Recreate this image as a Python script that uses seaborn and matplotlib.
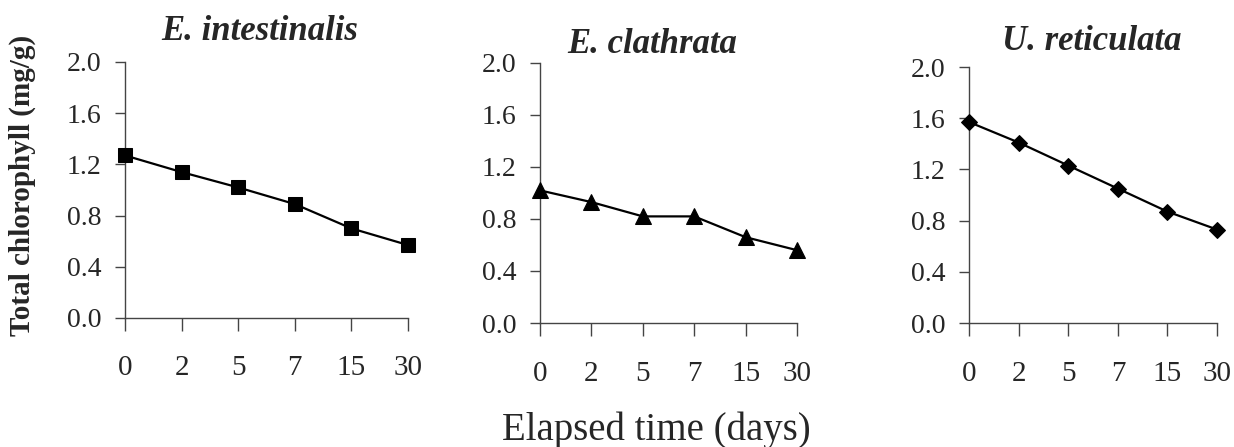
import pandas as pd
import matplotlib.pyplot as plt
import seaborn as sns

# chlorophyll content over time, three algae
days = ['0', '2', '5', '7', '15', '30']
species = ['E. intestinalis', 'E. clathrata', 'U. reticulata']
e_intestinalis = [1.27, 1.14, 1.02, 0.89, 0.70, 0.57]
e_clathrata = [1.02, 0.93, 0.82, 0.82, 0.66, 0.56]
u_reticulata = [1.57, 1.41, 1.23, 1.05, 0.87, 0.73]
markers = ['s', '^', 'D']
marker_sizes = [9.5, 11.5, 8.5]

sns.set_style('white')
plt.rcParams['font.family'] = ['Liberation Serif', 'DejaVu Serif']

fig = plt.figure(figsize=(12.34, 4.47), dpi=100)
# axes boxes (left, bottom, width, height)
boxes = [[0.1013, 0.2886, 0.2293, 0.5727],
         [0.4376, 0.2774, 0.2083, 0.5817],
         [0.7853, 0.2774, 0.2010, 0.5727]]
title_xy = [(0.477, 1.086), (0.436, 1.038), (0.496, 1.066)]

values = [e_intestinalis, e_clathrata, u_reticulata]
for i in range(3):
    ax = fig.add_axes(boxes[i])
    df = pd.DataFrame({'day': days, 'chl': values[i]})
    sns.lineplot(x='day', y='chl', data=df, ax=ax, color='k', linewidth=1.6,
                 marker=markers[i], markersize=marker_sizes[i],
                 markeredgecolor='k', markerfacecolor='k', clip_on=False, zorder=3)
    ax.set_xlim(0, 5)
    ax.set_ylim(0, 2.0)
    ax.set_yticks([0.0, 0.4, 0.8, 1.2, 1.6, 2.0])
    ax.set_yticklabels(['0.0', '0.4', '0.8', '1.2', '1.6', '2.0'])
    ax.set_xlabel('')
    ax.set_ylabel('')
    for s in ['top', 'right']:
        ax.spines[s].set_visible(False)
    for s in ['left', 'bottom']:
        ax.spines[s].set_color('#444444')
        ax.spines[s].set_linewidth(1.0)
    ax.tick_params(axis='x', direction='out', length=9, width=1.0, color='#444444',
                   labelsize=21, pad=18, bottom=True)
    ax.tick_params(axis='y', direction='out', length=7, width=1.0, color='#444444',
                   labelsize=20, pad=10, left=True)
    ax.set_title(species[i], fontsize=25, fontweight='bold', fontstyle='italic',
                 x=title_xy[i][0], y=title_xy[i][1], pad=0)

fig.text(0.018, 0.585, 'Total chlorophyll (mg/g)', rotation=90, fontsize=21,
         fontweight='bold', ha='center', va='center')
fig.text(0.532, 0.038, 'Elapsed time (days)', fontsize=28, ha='center', va='center')

fig.savefig('out.png', dpi=100, facecolor='white')
